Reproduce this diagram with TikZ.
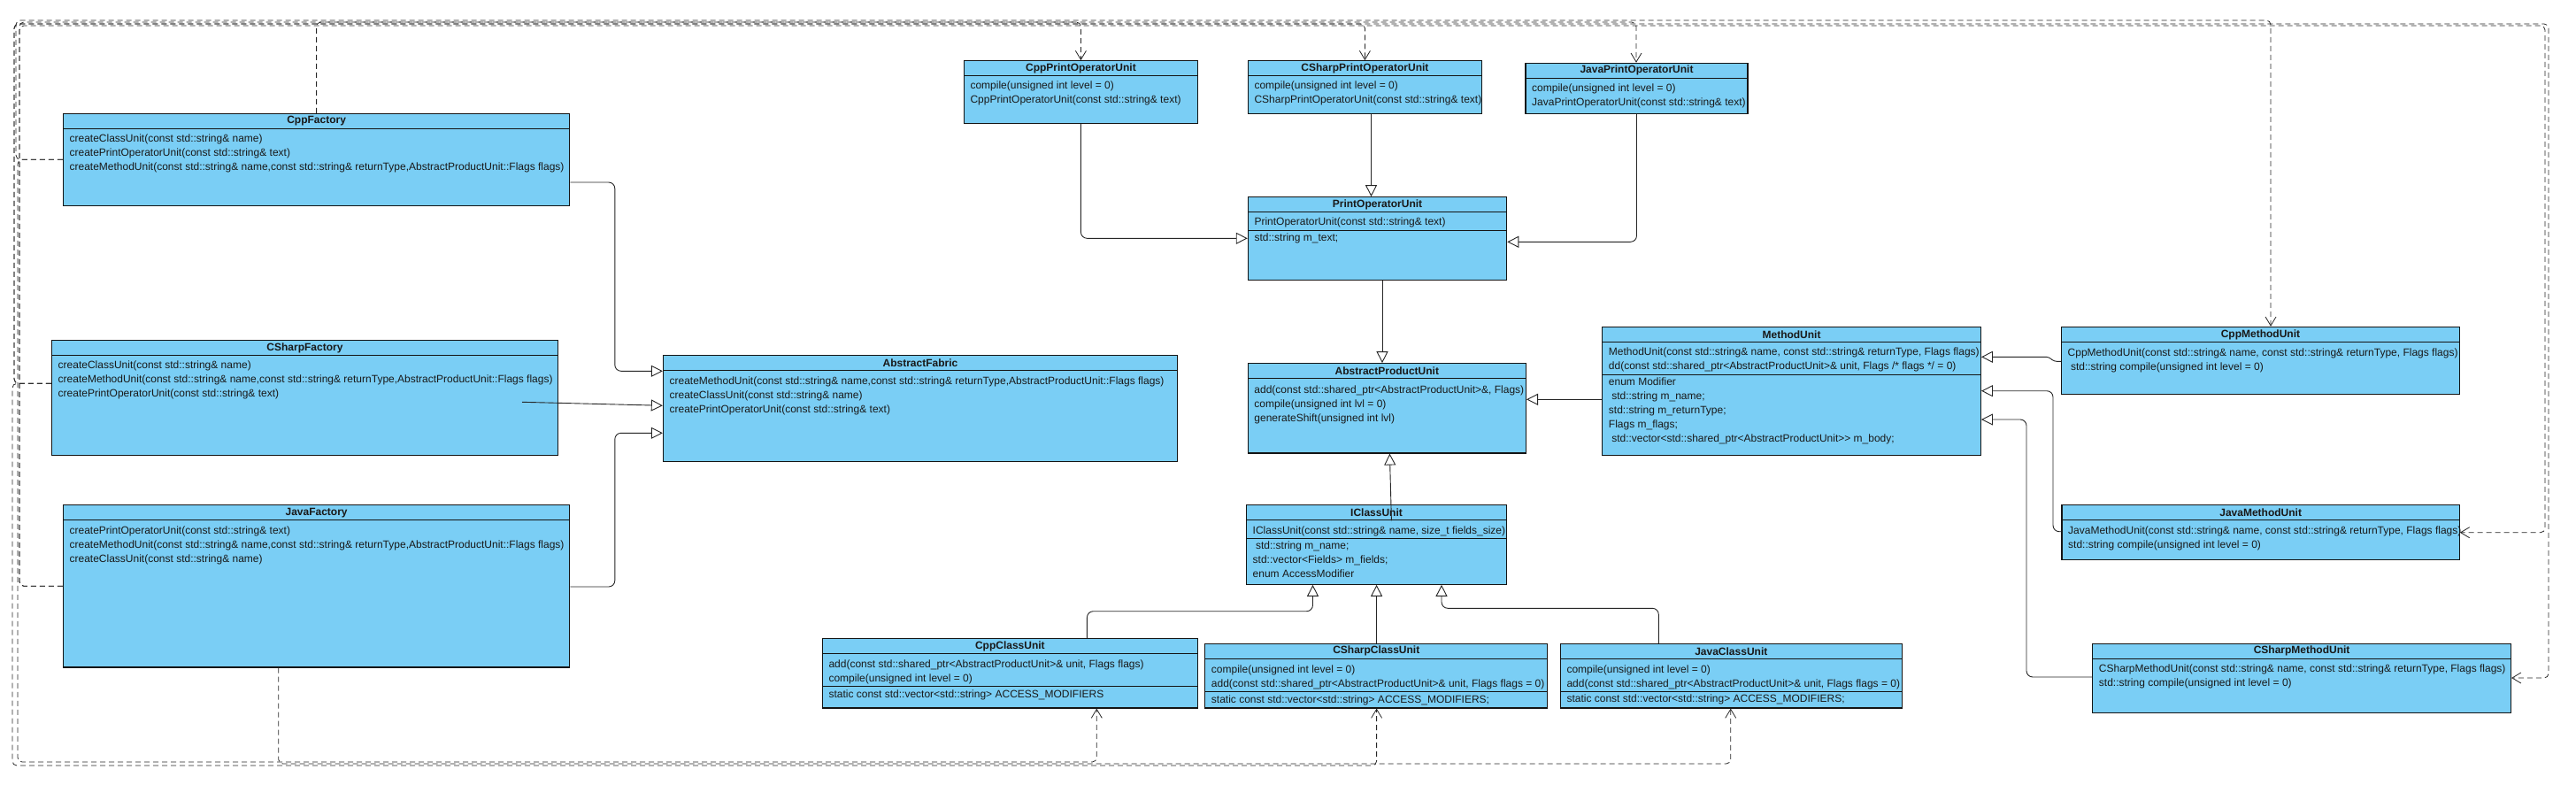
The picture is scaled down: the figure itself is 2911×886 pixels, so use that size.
\documentclass[tikz,border=0pt]{standalone}
\usepackage{fontspec}
\setmainfont{Liberation Sans}
\usetikzlibrary{arrows.meta,fit}
\definecolor{clsfill}{RGB}{122,206,245}
\definecolor{clsborder}{RGB}{20,20,20}
\newcommand{\ls}{\rule[-5pt]{0pt}{16pt}}
\newcommand{\umlbox}[7]{%
  \coordinate (#1-nw) at (#2,#3);
  \coordinate (#1-se) at (#4,#5);
  \node[cls, fit=(#1-nw)(#1-se)] (#1) {};
  \draw[clsline] (#2,#6) -- (#4,#6);
  \node[hdr] (#1-title) at ({(#2+#4)/2},{(#3+#6)/2}) {#7};
}
\newcommand{\umltext}[4]{%
  \node[txt] (#1) at ({#2+7},{#3-7}) {#4};
}
\tikzset{
  cls/.style={draw=clsborder, fill=clsfill, line width=1.1pt, inner sep=0pt},
  clsline/.style={draw=clsborder, line width=1.1pt},
  hdr/.style={inner sep=0pt, font=\fontsize{12}{16}\selectfont\bfseries, text=black!90},
  txt/.style={anchor=north west, inner sep=0pt, align=left, font=\fontsize{12}{16}\selectfont, text=black!90},
  gen/.style={draw=black!85, line width=0.9pt, rounded corners=7pt, -{Triangle[open, length=13pt, width=13pt, line width=0.9pt]}},
  dep/.style={draw=black!85, line width=0.8pt, rounded corners=5pt, dash pattern=on 6pt off 4pt, -{Straight Barb[length=10pt, width=12pt, line width=0.8pt]}},
}
\begin{document}
\begin{tikzpicture}[x=1pt, y=-1pt]
\useasboundingbox (0,0) rectangle (2911,886);

% ---------- classes ----------
\umlbox{cppf}{71.4}{128.3}{643.8}{232.3}{145.3}{CppFactory}
\umltext{cppf-ops}{71.4}{156.7}{\ls createClassUnit(const std::string\& name)\\\ls createPrintOperatorUnit(const std::string\& text)\\\ls createMethodUnit(const std::string\& name,const std::string\& returnType,AbstractProductUnit::Flags flags)}

\umlbox{csf}{58.5}{384.3}{630.4}{514.3}{401.7}{CSharpFactory}
\umltext{csf-ops}{58.5}{412.7}{\ls createClassUnit(const std::string\& name)\\\ls createMethodUnit(const std::string\& name,const std::string\& returnType,AbstractProductUnit::Flags flags)\\\ls createPrintOperatorUnit(const std::string\& text)}

\umlbox{jf}{71.4}{570.7}{643.8}{754}{587.7}{JavaFactory}
\umltext{jf-ops}{71.4}{599}{\ls createPrintOperatorUnit(const std::string\& text)\\\ls createMethodUnit(const std::string\& name,const std::string\& returnType,AbstractProductUnit::Flags flags)\\\ls createClassUnit(const std::string\& name)}

\umlbox{af}{749.4}{401.7}{1330.5}{521.3}{418.7}{AbstractFabric}
\umltext{af-ops}{749.4}{430}{\ls createMethodUnit(const std::string\& name,const std::string\& returnType,AbstractProductUnit::Flags flags)\\\ls createClassUnit(const std::string\& name)\\\ls createPrintOperatorUnit(const std::string\& text)}

\umlbox{cppp}{1089.3}{68.7}{1353.6}{139.3}{85.3}{CppPrintOperatorUnit}
\umltext{cppp-ops}{1089.3}{96.7}{\ls compile(unsigned int level = 0)\\\ls CppPrintOperatorUnit(const std::string\& text)}

\umlbox{csp}{1410.3}{68.7}{1674.6}{128.3}{85.3}{CSharpPrintOperatorUnit}
\umltext{csp-ops}{1410.3}{96.7}{\ls compile(unsigned int level = 0)\\\ls CSharpPrintOperatorUnit(const std::string\& text)}

\umlbox{jp}{1724}{71.3}{1975}{128.3}{88.3}{JavaPrintOperatorUnit}
\umltext{jp-ops}{1724}{99.7}{\ls compile(unsigned int level = 0)\\\ls JavaPrintOperatorUnit(const std::string\& text)}

\umlbox{pou}{1410.3}{222.7}{1702.7}{316.3}{239.3}{PrintOperatorUnit}
\draw[clsline] (1410.3,260.3) -- (1702.7,260.3);
\umltext{pou-ops}{1410.3}{250.7}{\ls PrintOperatorUnit(const std::string\& text)}
\umltext{pou-attr}{1410.3}{268.7}{\ls std::string m\_text;}

\umlbox{apu}{1410.2}{410.7}{1724.5}{512}{427.7}{AbstractProductUnit}
\umltext{apu-ops}{1410.2}{440}{\ls add(const std::shared\_ptr<AbstractProductUnit>\&, Flags)\\\ls compile(unsigned int lvl = 0)\\\ls generateShift(unsigned int lvl)}

\umlbox{mu}{1810.7}{369.3}{2238.4}{514.3}{386.5}{MethodUnit}
\draw[clsline] (1810.7,423.5) -- (2238.4,423.5);
\umltext{mu-ops}{1810.7}{397.3}{\ls MethodUnit(const std::string\& name, const std::string\& returnType, Flags flags)\\\ls dd(const std::shared\_ptr<AbstractProductUnit>\& unit, Flags /* flags */ = 0)}
\umltext{mu-attr}{1810.7}{431.7}{\ls enum Modifier\\\ls\ std::string m\_name;\\\ls std::string m\_returnType;\\\ls Flags m\_flags;\\\ls\ std::vector<std::shared\_ptr<AbstractProductUnit>{}> m\_body;}

\umlbox{cmu}{2329.5}{369.3}{2779.3}{445.3}{386.7}{CppMethodUnit}
\umltext{cmu-ops}{2329.5}{398.3}{\ls CppMethodUnit(const std::string\& name, const std::string\& returnType, Flags flags)\\\ls\ std::string compile(unsigned int level = 0)}

\umlbox{jmu}{2330}{570.7}{2779.3}{632.3}{587.7}{JavaMethodUnit}
\umltext{jmu-ops}{2330}{599.3}{\ls JavaMethodUnit(const std::string\& name, const std::string\& returnType, Flags flags)\\\ls std::string compile(unsigned int level = 0)}

\umlbox{smu}{2364.7}{727.3}{2837.5}{805.3}{744.3}{CSharpMethodUnit}
\umltext{smu-ops}{2364.7}{755.7}{\ls CSharpMethodUnit(const std::string\& name, const std::string\& returnType, Flags flags)\\\ls std::string compile(unsigned int level = 0)}

\umlbox{icu}{1408.5}{570.5}{1702.5}{660.3}{587.7}{IClassUnit}
\draw[clsline] (1408.5,608.7) -- (1702.5,608.7);
\umltext{icu-ops}{1408.5}{599}{\ls IClassUnit(const std::string\& name, size\_t fields\_size)}
\umltext{icu-attr}{1408.5}{616.7}{\ls\ std::string m\_name;\\\ls std::vector<Fields> m\_fields;\\\ls enum AccessModifier}

\umlbox{ccu}{929.3}{721.7}{1353.4}{800}{738.3}{CppClassUnit}
\draw[clsline] (929.3,775.7) -- (1353.4,775.7);
\umltext{ccu-ops}{929.3}{750}{\ls add(const std::shared\_ptr<AbstractProductUnit>\& unit, Flags flags)\\\ls compile(unsigned int level = 0)}
\umltext{ccu-attr}{929.3}{784}{\ls static const std::vector<std::string> ACCESS\_MODIFIERS}

\umlbox{scu}{1361.7}{727.3}{1748.9}{800}{744.3}{CSharpClassUnit}
\draw[clsline] (1361.7,781.7) -- (1748.9,781.7);
\umltext{scu-ops}{1361.7}{756}{\ls compile(unsigned int level = 0)\\\ls add(const std::shared\_ptr<AbstractProductUnit>\& unit, Flags flags = 0)}
\umltext{scu-attr}{1361.7}{790}{\ls static const std::vector<std::string> ACCESS\_MODIFIERS;}

\umlbox{jcu}{1763.3}{727.3}{2149.3}{800}{744.3}{JavaClassUnit}
\draw[clsline] (1763.3,781.7) -- (2149.3,781.7);
\umltext{jcu-ops}{1763.3}{756}{\ls compile(unsigned int level = 0)\\\ls add(const std::shared\_ptr<AbstractProductUnit>\& unit, Flags flags = 0)}
\umltext{jcu-attr}{1763.3}{789.7}{\ls static const std::vector<std::string> ACCESS\_MODIFIERS;}

% ---------- generalizations ----------
\coordinate (csfout) at (590,454.3);
\coordinate (icuin) at (1572.4,588.3);
\draw[gen] (cppf.east |- 0,206) -- (694.8,206) -- (694.8,419.3) -- (af.west |- 0,419.3);
\draw[gen] (csfout) -- (af.west |- 0,458.3);
\draw[gen] (jf.east |- 0,663) -- (694.8,663) -- (694.8,489.3) -- (af.west |- 0,489.3);
\draw[gen] (cppp.south -| 1221.4,0) -- (1221.4,269.3) -- (pou.west |- 0,269.3);
\draw[gen] (csp.south -| 1549.5,0) -- (pou.north -| 1549.5,0);
\draw[gen] (jp.south -| 1849.5,0) -- (1849.5,273.3) -- (pou.east |- 0,273.3);
\draw[gen] (pou.south -| 1562,0) -- (apu.north -| 1562,0);
\draw[gen] (mu.west |- 0,451.3) -- (apu.east |- 0,451.3);
\draw[gen] (icuin) -- (apu.south -| 1570.4,0);
\draw[gen] (ccu.north -| 1228.4,0) -- (1228.4,690.7) -- (1483.5,690.7) -- (icu.south -| 1483.5,0);
\draw[gen] (scu.north -| 1555.6,0) -- (icu.south -| 1555.6,0);
\draw[gen] (jcu.north -| 1874.3,0) -- (1874.3,687.3) -- (1629,687.3) -- (icu.south -| 1629,0);
\draw[gen, rounded corners=3pt] (cmu.west |- 0,408.3) -- (2321,408.3) -- (2315,403.3) -- (mu.east |- 0,403.3);
\draw[gen] (jmu.west |- 0,600.7) -- (2320,600.7) -- (2320,441.7) -- (mu.east |- 0,441.7);
\draw[gen] (smu.west |- 0,765) -- (2290,765) -- (2290,474) -- (mu.east |- 0,474);

% ---------- dependencies ----------
\draw[dep] (cppf.north -| 357.6,0) -- (357.6,25) -- (1221.4,25) -- (cppp.north -| 1221.4,0);
\draw[dep] (cppf.west |- 0,180.3) -- (18,180.3) -- (18,23) -- (2566,23) -- (cmu.north -| 2566,0);
\draw[dep] (cppf.west |- 0,180.3) -- (20,180.3) -- (20,861) -- (1239.3,861) -- (ccu.south -| 1239.3,0);
\draw[dep] (csf.west |- 0,433.3) -- (16,433.3) -- (16,27) -- (1542.4,27) -- (csp.north -| 1542.4,0);
\draw[dep] (csf.west |- 0,433.3) -- (14,433.3) -- (14,865) -- (1555.6,865) -- (scu.south -| 1555.6,0);
\draw[dep] (csf.west |- 0,433.3) -- (16,433.3) -- (16,27) -- (2880,27) -- (2880,766) -- (smu.east |- 0,766);
\draw[dep] (jf.west |- 0,662.3) -- (22,662.3) -- (22,25) -- (1849,25) -- (jp.north -| 1849,0);
\draw[dep] (jf.west |- 0,662.3) -- (22,662.3) -- (22,29) -- (2876,29) -- (2876,601.7) -- (jmu.east |- 0,601.7);
\draw[dep] (jf.south -| 314.7,0) -- (314.7,863) -- (1955.7,863) -- (jcu.south -| 1955.7,0);
\end{tikzpicture}
\end{document}
